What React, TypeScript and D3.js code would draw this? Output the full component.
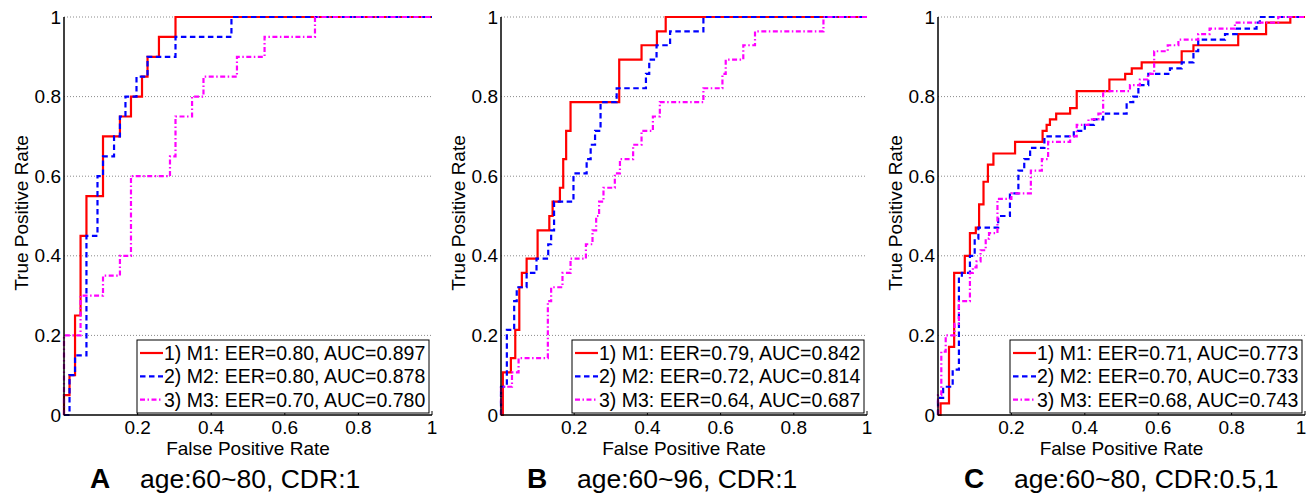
import React from "react";
import * as d3 from "d3";

// ---------- data ----------
const yTickValues = [0, 0.2, 0.4, 0.6, 0.8, 1];
const yTickLabels = ["0", "0.2", "0.4", "0.6", "0.8", "1"];
const xTickValues = [0.2, 0.4, 0.6, 0.8, 1];
const xTickLabels = ["0.2", "0.4", "0.6", "0.8", "1"];

const panelLetters = ["A", "B", "C"];
const panelCaptions = ["age:60~80, CDR:1", "age:60~96, CDR:1", "age:60~80, CDR:0.5,1"];
const seriesNames = ["M1", "M2", "M3"];

const legendA = ["1) M1: EER=0.80, AUC=0.897", "2) M2: EER=0.80, AUC=0.878", "3) M3: EER=0.70, AUC=0.780"];
const legendB = ["1) M1: EER=0.79, AUC=0.842", "2) M2: EER=0.72, AUC=0.814", "3) M3: EER=0.64, AUC=0.687"];
const legendC = ["1) M1: EER=0.71, AUC=0.773", "2) M2: EER=0.70, AUC=0.733", "3) M3: EER=0.68, AUC=0.743"];

// Panel A
const fprA1 = [0, 0, 0.015, 0.03, 0.045, 0.061, 0.106, 0.152, 0.182, 0.212, 0.227, 0.258, 0.303, 1];
const tprA1 = [0, 0.05, 0.1, 0.25, 0.45, 0.55, 0.7, 0.75, 0.8, 0.85, 0.9, 0.95, 1, 1];
const fprA2 = [0, 0.015, 0.03, 0.061, 0.091, 0.106, 0.136, 0.152, 0.167, 0.197, 0.227, 0.303, 0.455, 1];
const tprA2 = [0, 0.1, 0.15, 0.45, 0.6, 0.65, 0.7, 0.75, 0.8, 0.85, 0.9, 0.95, 1, 1];
const fprA3 = [0, 0, 0.045, 0.106, 0.152, 0.182, 0.288, 0.303, 0.348, 0.379, 0.47, 0.545, 0.682, 1];
const tprA3 = [0, 0.2, 0.3, 0.35, 0.4, 0.6, 0.65, 0.75, 0.8, 0.85, 0.9, 0.95, 1, 1];

// Panel B
const fprB1 = [0, 0.005, 0.027, 0.039, 0.05, 0.057, 0.07, 0.1, 0.132, 0.141, 0.161, 0.17, 0.178, 0.19, 0.323, 0.384, 0.426, 0.45, 1];
const tprB1 = [0, 0.107, 0.143, 0.214, 0.321, 0.357, 0.393, 0.464, 0.5, 0.536, 0.571, 0.643, 0.714, 0.786, 0.893, 0.929, 0.964, 1, 1];
const fprB2 = [0, 0, 0.016, 0.036, 0.043, 0.07, 0.097, 0.129, 0.137, 0.145, 0.198, 0.234, 0.245, 0.257, 0.272, 0.316, 0.396, 0.405, 0.425, 0.462, 0.553, 1];
const tprB2 = [0, 0.071, 0.214, 0.286, 0.321, 0.357, 0.393, 0.429, 0.464, 0.536, 0.607, 0.643, 0.679, 0.714, 0.786, 0.821, 0.857, 0.893, 0.929, 0.964, 1, 1];
const fprB3 = [0, 0, 0.03, 0.048, 0.128, 0.137, 0.168, 0.19, 0.232, 0.25, 0.26, 0.268, 0.28, 0.311, 0.325, 0.361, 0.384, 0.415, 0.434, 0.553, 0.605, 0.614, 0.662, 0.694, 0.881, 1];
const tprB3 = [0, 0.071, 0.107, 0.143, 0.286, 0.321, 0.357, 0.393, 0.429, 0.464, 0.5, 0.536, 0.571, 0.607, 0.643, 0.679, 0.714, 0.75, 0.786, 0.821, 0.857, 0.893, 0.929, 0.964, 1, 1];

// Panel C
const fprC1 = [0, 0.007, 0.03, 0.044, 0.073, 0.087, 0.103, 0.112, 0.124, 0.136, 0.151, 0.21, 0.285, 0.296, 0.305, 0.322, 0.36, 0.378, 0.467, 0.51, 0.528, 0.555, 0.664, 0.696, 0.818, 0.894, 0.96, 1];
const tprC1 = [0, 0.029, 0.171, 0.357, 0.4, 0.457, 0.471, 0.529, 0.586, 0.629, 0.657, 0.686, 0.714, 0.729, 0.743, 0.757, 0.771, 0.814, 0.843, 0.857, 0.871, 0.886, 0.914, 0.929, 0.957, 0.986, 1, 1];
const fprC2 = [0, 0, 0.014, 0.04, 0.057, 0.065, 0.087, 0.1, 0.11, 0.164, 0.196, 0.219, 0.235, 0.251, 0.29, 0.37, 0.4, 0.425, 0.45, 0.514, 0.532, 0.546, 0.573, 0.632, 0.664, 0.696, 0.709, 0.782, 0.814, 0.868, 0.877, 1];
const tprC2 = [0, 0.043, 0.071, 0.114, 0.343, 0.357, 0.4, 0.443, 0.471, 0.5, 0.557, 0.614, 0.643, 0.671, 0.7, 0.714, 0.729, 0.743, 0.757, 0.786, 0.8, 0.829, 0.857, 0.871, 0.886, 0.914, 0.943, 0.957, 0.971, 0.986, 1, 1];
const fprC3 = [0, 0, 0.009, 0.021, 0.045, 0.057, 0.087, 0.095, 0.105, 0.116, 0.13, 0.139, 0.162, 0.2, 0.253, 0.283, 0.3, 0.36, 0.378, 0.41, 0.437, 0.45, 0.523, 0.55, 0.572, 0.589, 0.626, 0.655, 0.709, 0.74, 0.809, 0.927, 1];
const tprC3 = [0, 0.05, 0.159, 0.2, 0.229, 0.286, 0.357, 0.371, 0.386, 0.414, 0.443, 0.457, 0.543, 0.557, 0.614, 0.643, 0.686, 0.7, 0.729, 0.743, 0.757, 0.814, 0.829, 0.843, 0.857, 0.914, 0.929, 0.943, 0.957, 0.971, 0.986, 1, 1];

// ---------- styling / layout ----------
const FONT = "'Liberation Sans', Arial, Helvetica, sans-serif";
const seriesStyles = [
  { color: "#ff0000", dash: "none" },
  { color: "#0000ff", dash: "5.5,3.5" },
  { color: "#ff00ff", dash: "5,2.5,1.5,2.5" },
];

const panels = [
  { x0: 64, x1: 432, legend: legendA, fpr: [fprA1, fprA2, fprA3], tpr: [tprA1, tprA2, tprA3] },
  { x0: 501, x1: 867, legend: legendB, fpr: [fprB1, fprB2, fprB3], tpr: [tprB1, tprB2, tprB3] },
  { x0: 938, x1: 1305, legend: legendC, fpr: [fprC1, fprC2, fprC3], tpr: [tprC1, tprC2, tprC3] },
];

const yTop = 17;
const yBottom = 415;
const W = 1308;

function Panel({ p, idx }: { p: any; idx: number }) {
  const x = d3.scaleLinear().domain([0, 1]).range([p.x0, p.x1]);
  const y = d3.scaleLinear().domain([0, 1]).range([yBottom, yTop]);
  const line = d3
    .line<[number, number]>()
    .x((d) => x(d[0]))
    .y((d) => y(d[1]))
    .curve(d3.curveStepAfter);

  const legW = 292;
  const legH = 73;
  const legX = p.x1 - 3 - legW;
  const legY = yBottom - 2 - legH;

  return (
    <g>
      {/* grid */}
      {yTickValues.filter((v) => v > 0).map((v) => (
        <line key={"g" + v} x1={p.x0} x2={p.x1} y1={y(v)} y2={y(v)} stroke="#8a8a8a" strokeWidth={1} strokeDasharray="1,2" />
      ))}
      {/* curves */}
      {p.fpr.map((f: number[], si: number) => {
        const pts: [number, number][] = f.map((fv, i) => [fv, p.tpr[si][i]]);
        return (
          <path
            key={"s" + si}
            d={line(pts) || ""}
            fill="none"
            stroke={seriesStyles[si].color}
            strokeWidth={2.2}
            strokeDasharray={seriesStyles[si].dash}
          />
        );
      })}
      {/* axes */}
      <line x1={p.x0} x2={p.x0} y1={yTop} y2={yBottom + 0.5} stroke="#000" strokeWidth={1.5} />
      <line x1={p.x0} x2={p.x1} y1={yBottom} y2={yBottom} stroke="#000" strokeWidth={1.5} />
      {xTickValues.map((v) => (
        <line key={"xt" + v} x1={x(v)} x2={x(v)} y1={yBottom} y2={yBottom - 4} stroke="#000" strokeWidth={1} />
      ))}
      {yTickValues.map((v, i) => (
        <text key={"yl" + v} x={p.x0 - 3} y={y(v)} dy="0.35em" textAnchor="end" fontSize={19} fontFamily={FONT}>
          {yTickLabels[i]}
        </text>
      ))}
      {xTickValues.map((v, i) => (
        <text
          key={"xl" + v}
          x={Math.min(x(v), W - 7)}
          y={434}
          textAnchor="middle"
          fontSize={19}
          fontFamily={FONT}
        >
          {xTickLabels[i]}
        </text>
      ))}
      <text x={(p.x0 + p.x1) / 2} y={455} textAnchor="middle" fontSize={19} fontFamily={FONT}>
        False Positive Rate
      </text>
      <text
        transform={`translate(${p.x0 - 36},${(yTop + yBottom) / 2 - 3}) rotate(-90)`}
        textAnchor="middle"
        fontSize={19}
        fontFamily={FONT}
      >
        True Positive Rate
      </text>
      {/* legend */}
      <rect x={legX} y={legY} width={legW} height={legH} fill="#fff" stroke="#000" strokeWidth={1} />
      {p.legend.map((lab: string, li: number) => {
        const cy = legY + 13 + li * 23.3;
        return (
          <g key={"lg" + li}>
            <line
              x1={legX + 3}
              x2={legX + 26}
              y1={cy}
              y2={cy}
              stroke={seriesStyles[li].color}
              strokeWidth={2.2}
              strokeDasharray={seriesStyles[li].dash}
            />
            <text x={legX + 27} y={cy} dy="0.36em" fontSize={19.5} fontFamily={FONT}>
              {lab}
            </text>
          </g>
        );
      })}
      {/* caption */}
      <text x={p.x0 + 26} y={488} fontSize={28} fontWeight="bold" fontFamily={FONT}>
        {panelLetters[idx]}
      </text>
      <text x={p.x0 + 76} y={488} fontSize={26.5} fontFamily={FONT}>
        {panelCaptions[idx]}
      </text>
    </g>
  );
}

export default function App() {
  return (
    <svg
      width={W}
      height={494}
      viewBox={`0 0 ${W} 494`}
      style={{ position: "absolute", left: 0, top: 0, background: "#fff" }}
    >
      <rect x={0} y={0} width={W} height={494} fill="#fff" />
      {panels.map((p, i) => (
        <Panel key={seriesNames[i] + i} p={p} idx={i} />
      ))}
    </svg>
  );
}
